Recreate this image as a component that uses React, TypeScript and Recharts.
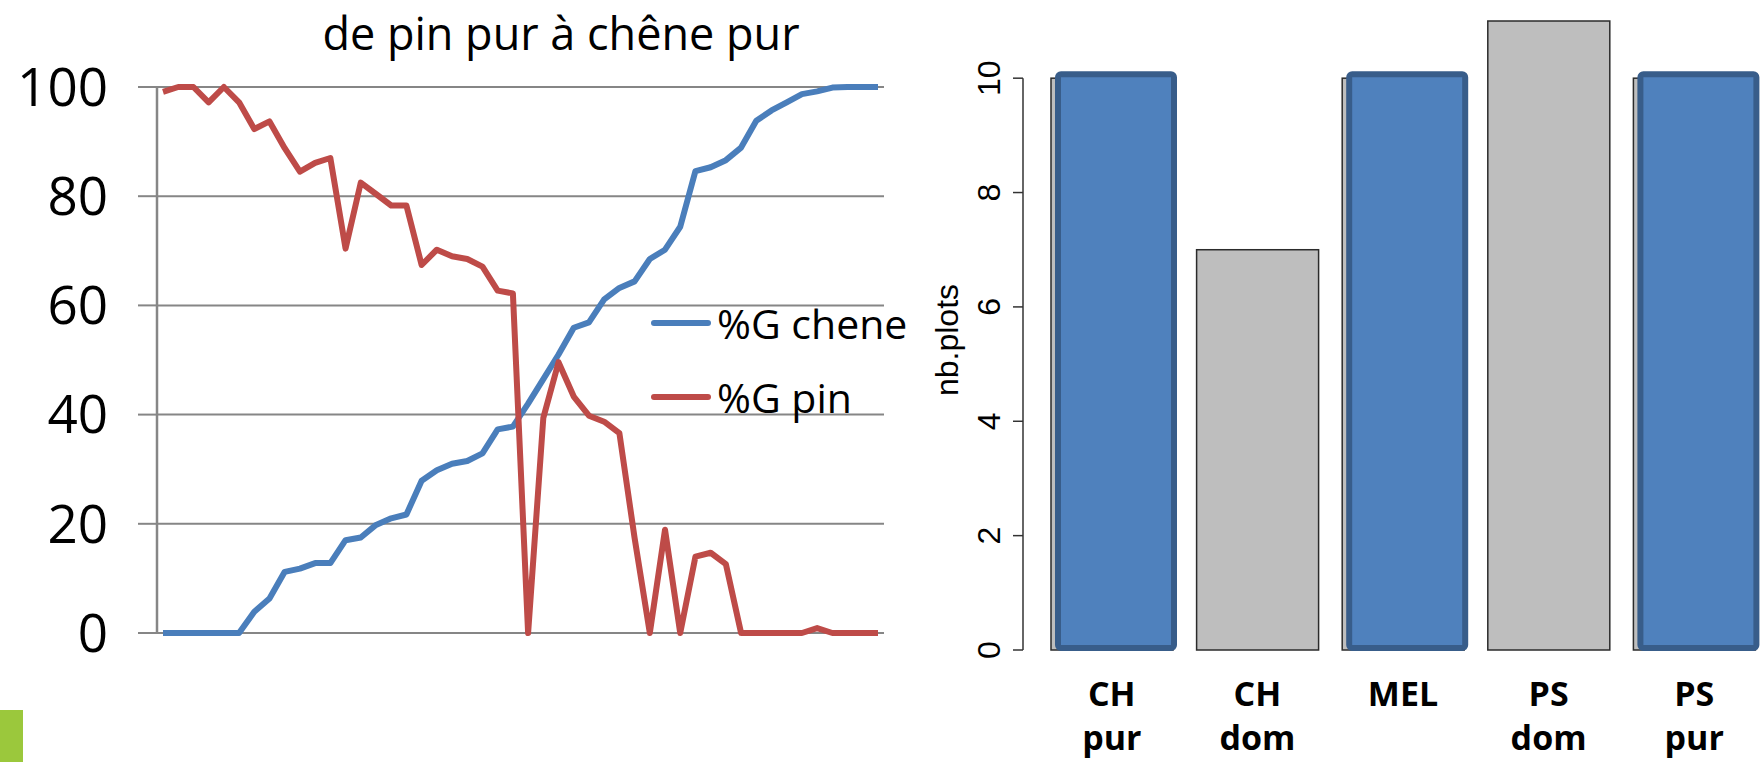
import {
  LineChart,
  Line,
  XAxis,
  YAxis,
  CartesianGrid,
  Legend,
  BarChart,
  Bar,
  ReferenceLine,
} from "recharts";

// left chart: share of basal area, from pure pine to pure oak
const steps = [
  1, 2, 3, 4, 5, 6, 7, 8, 9, 10, 11, 12, 13, 14, 15, 16, 17, 18, 19, 20, 21, 22, 23, 24,
  25, 26, 27, 28, 29, 30, 31, 32, 33, 34, 35, 36, 37, 38, 39, 40, 41, 42, 43, 44, 45, 46, 47, 48,
];
const cheneValues = [
  0, 0, 0, 0, 0, 0, 3.9, 6.3, 11.2, 11.8, 12.8, 12.8, 17.0, 17.5, 19.8, 21.0, 21.7, 27.9,
  29.8, 31.0, 31.5, 32.9, 37.3, 37.8, 42, 46.5, 51, 55.9, 56.9, 61.1, 63.2, 64.4, 68.5, 70.2,
  74.4, 84.6, 85.3, 86.6, 88.9, 93.8, 95.7, 97.2, 98.7, 99.2, 99.9, 100, 100, 100,
];
const pinValues = [
  99.1, 100, 100, 97.2, 100, 97.2, 92.3, 93.7, 88.8, 84.5, 86.1, 87.0, 70.4, 82.5, 80.4, 78.3,
  78.3, 67.4, 70.2, 69.0, 68.5, 67.1, 62.7, 62.2, 0, 39.4, 49.6, 43.3, 39.8, 38.7, 36.6, 17.4,
  0, 18.9, 0, 14.0, 14.7, 12.6, 0, 0, 0, 0, 0, 0.9, 0, 0, 0, 0,
];
const percentTicks = [0, 20, 40, 60, 80, 100];

// right chart: number of plots per stand type
const plotCategories = ["CH pur", "CH dom", "MEL", "PS dom", "PS pur"];
const plotCounts = [10, 7, 10, 11, 10];
const highlighted = ["CH pur", "MEL", "PS pur"];
const countTicks = [0, 2, 4, 6, 8, 10];

const lineData = steps.map((s, i) => ({ step: s, chene: cheneValues[i], pin: pinValues[i] }));
const barData = plotCategories.map((name, i) => ({ name, plots: plotCounts[i] }));

const BLUE = "#4A7EBB";
const RED = "#BE4B48";
const GRID = "#868686";
const OFFICE = "'Open Sans', sans-serif";
const RFONT = "'Liberation Sans', Arial, sans-serif";

const BAR_YAXIS_W = 93;

function PctLegend({ payload }: any) {
  return (
    <div>
      {(payload || []).map((p: any) => (
        <div key={p.value} style={{ display: "flex", alignItems: "center", height: 74 }}>
          <svg width={66} height={12}>
            <line x1={3} y1={6} x2={57} y2={6} stroke={p.color} strokeWidth={6} strokeLinecap="round" />
          </svg>
          <span style={{ fontFamily: OFFICE, fontSize: 41, color: "#000", whiteSpace: "nowrap" }}>{p.value}</span>
        </div>
      ))}
    </div>
  );
}

function PlotBar(props: any) {
  const { x, y, width, height, payload } = props;
  const hi = highlighted.includes(payload?.name);
  return (
    <g>
      <rect x={x} y={y} width={width} height={height} fill="#BEBEBE" stroke="#2b2b2b" strokeWidth={1.5} />
      {hi && (
        <rect
          x={x + 7}
          y={y - 4}
          width={width - 6}
          height={height + 2}
          rx={3}
          fill="#4F81BD"
          stroke="#385D8A"
          strokeWidth={6}
        />
      )}
    </g>
  );
}

function CountTick(props: any) {
  const { x, y, payload } = props;
  return (
    <text
      x={x}
      y={y}
      transform={`rotate(-90 ${x} ${y})`}
      textAnchor="middle"
      fontFamily={RFONT}
      fontSize={32}
      fill="#000"
    >
      {payload.value}
    </text>
  );
}

function StandTick(props: any) {
  const { x, y, payload } = props;
  const parts = String(payload.value).split(" ");
  return (
    <text x={x} y={y} textAnchor="middle" fontFamily={OFFICE} fontWeight={700} fontSize={34} fill="#000">
      {parts.map((t, i) => (
        <tspan key={i} x={x} y={y + 56 + i * 44}>
          {t}
        </tspan>
      ))}
    </text>
  );
}

export default function App() {
  return (
    <div
      style={{
        position: "absolute",
        left: 0,
        top: 0,
        width: 1762,
        height: 762,
        overflow: "hidden",
        background: "#fff",
      }}
    >
      <svg width={1762} height={762} style={{ position: "absolute", left: 0, top: 0 }}>
        <text x={561} y={50} textAnchor="middle" fontFamily={OFFICE} fontSize={45} fill="#000">
          de pin pur à chêne pur
        </text>
        <text
          x={958}
          y={340}
          transform="rotate(-90 958 340)"
          textAnchor="middle"
          fontFamily={RFONT}
          fontSize={32}
          fill="#000"
        >
          nb.plots
        </text>
      </svg>

      <div style={{ position: "absolute", left: 0, top: 0 }}>
        <LineChart width={900} height={700} data={lineData} margin={{ top: 87, right: 16, bottom: 67, left: 0 }}>
          <CartesianGrid horizontal vertical={false} stroke={GRID} strokeWidth={2} />
          <XAxis dataKey="step" hide padding={{ left: 6, right: 6 }} />
          <YAxis
            width={157}
            domain={[0, 100]}
            ticks={percentTicks}
            interval={0}
            axisLine={{ stroke: GRID, strokeWidth: 2.5 }}
            tickLine={{ stroke: GRID, strokeWidth: 2 }}
            tickSize={19}
            tickMargin={30}
            tick={{ fontFamily: OFFICE, fontSize: 53, fill: "#000" }}
          />
          <Legend
            layout="vertical"
            align="center"
            verticalAlign="middle"
            content={<PctLegend />}
            wrapperStyle={{ left: 651, top: 286, width: "auto" }}
          />
          <Line
            dataKey="chene"
            name="%G chene"
            stroke={BLUE}
            strokeWidth={6}
            dot={false}
            strokeLinejoin="round"
            isAnimationActive={false}
          />
          <Line
            dataKey="pin"
            name="%G pin"
            stroke={RED}
            strokeWidth={6}
            dot={false}
            strokeLinejoin="round"
            isAnimationActive={false}
          />
        </LineChart>
      </div>

      <div style={{ position: "absolute", left: 930, top: 0 }}>
        <BarChart width={837} height={762} data={barData} margin={{ top: 21, right: 0, bottom: 0, left: 0 }}>
          <XAxis
            dataKey="name"
            height={112}
            axisLine={false}
            tickLine={false}
            tickSize={0}
            tickMargin={0}
            interval={0}
            padding={{ left: 16, right: 0 }}
            tick={<StandTick />}
          />
          <YAxis
            width={BAR_YAXIS_W}
            domain={[0, 11]}
            ticks={countTicks}
            interval={0}
            axisLine={false}
            tickLine={{ stroke: "#333", strokeWidth: 1.5 }}
            tickSize={10}
            tickMargin={13}
            tick={<CountTick />}
          />
          <ReferenceLine
            segment={[
              { x: plotCategories[0], y: 0 },
              { x: plotCategories[0], y: 10 },
            ]}
            shape={(p: any) => (
              <line x1={BAR_YAXIS_W} x2={BAR_YAXIS_W} y1={p.y1} y2={p.y2} stroke="#333" strokeWidth={1.5} />
            )}
          />
          <Bar dataKey="plots" barSize={122} shape={<PlotBar />} isAnimationActive={false} />
        </BarChart>
      </div>

      <div style={{ position: "absolute", left: 0, top: 710, width: 23, height: 52, background: "#9BC83C" }} />
    </div>
  );
}
